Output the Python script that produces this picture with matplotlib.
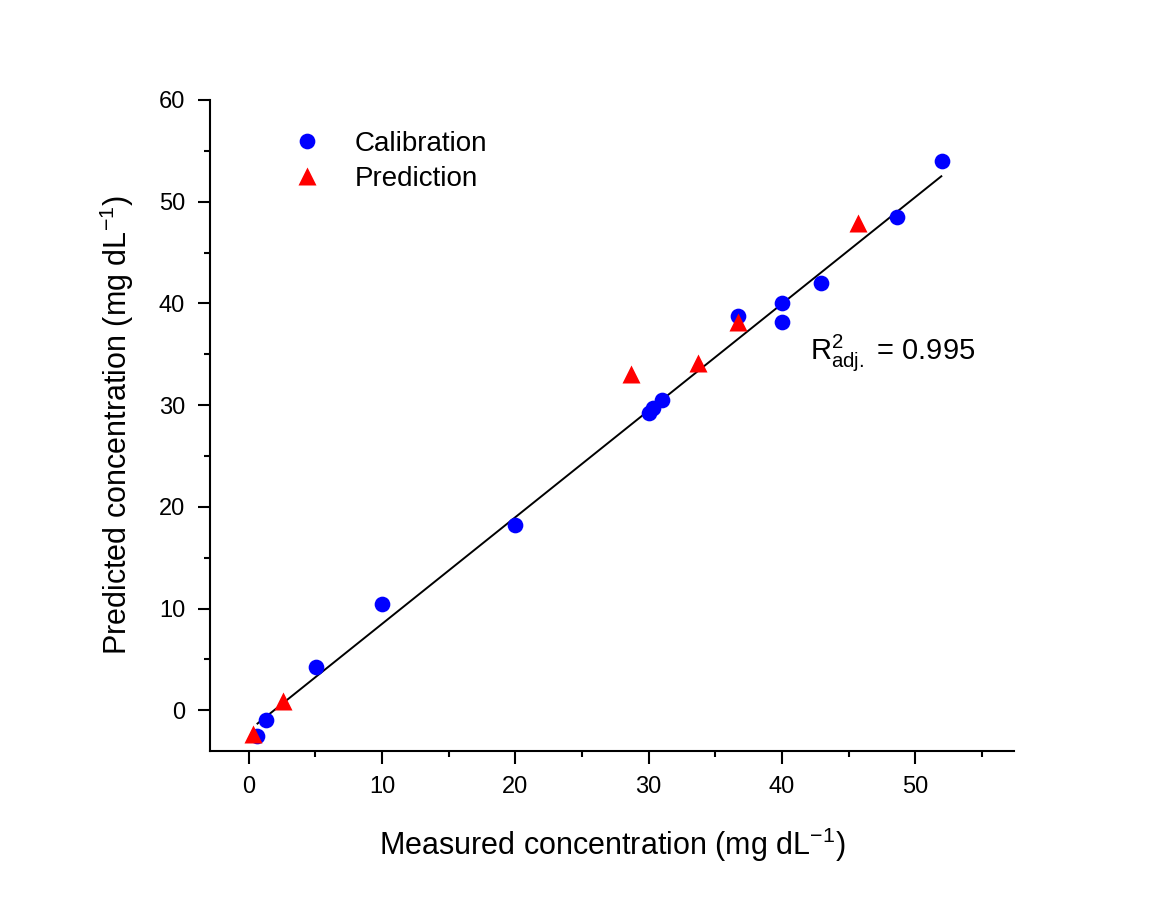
import matplotlib
matplotlib.use("Agg")
import matplotlib.pyplot as plt
from matplotlib.ticker import MultipleLocator

plt.rcParams['font.family'] = ['Liberation Sans', 'DejaVu Sans']
plt.rcParams['mathtext.fontset'] = 'custom'
plt.rcParams['mathtext.rm'] = 'Liberation Sans'
plt.rcParams['mathtext.it'] = 'Liberation Sans'

# Calibration set (measured, predicted)
cal_measured = [0.64, 1.3, 5.05, 10.0, 20.0, 30.0, 30.3, 31.0, 36.7, 40.0, 40.0, 42.9, 48.6, 52.0]
cal_predicted = [-2.5, -0.95, 4.3, 10.5, 18.2, 29.2, 29.7, 30.5, 38.8, 40.0, 38.2, 42.0, 48.5, 54.0]

# Prediction set
pred_measured = [0.3, 2.6, 28.7, 33.7, 36.7, 45.7]
pred_predicted = [-2.3, 0.9, 33.1, 34.1, 38.2, 47.9]

# regression line end points
fit_x = [0.66, 51.95]
fit_y = [-1.3, 52.5]

r2_text = r"R$^{2}_{\mathrm{adj.}}$ = 0.995"

fig = plt.figure(figsize=(11.74, 8.99), dpi=100)
ax = fig.add_axes([0.1789, 0.1646, 0.6848, 0.7242])

ax.plot(fit_x, fit_y, color='black', lw=1.4, zorder=1)
ax.plot(cal_measured, cal_predicted, 'o', color='#0000ff', ms=11.3, mec='none',
        label='Calibration', zorder=2)
ax.plot(pred_measured, pred_predicted, '^', color='#ff0000', ms=12.5, mec='none',
        label='Prediction', zorder=3)

ax.set_xlim(-2.9, 57.4)
ax.set_ylim(-4, 60)
ax.xaxis.set_major_locator(MultipleLocator(10))
ax.xaxis.set_minor_locator(MultipleLocator(5))
ax.yaxis.set_major_locator(MultipleLocator(10))
ax.yaxis.set_minor_locator(MultipleLocator(5))

for s in ['top', 'right']:
    ax.spines[s].set_visible(False)
for s in ['left', 'bottom']:
    ax.spines[s].set_linewidth(1.5)

ax.tick_params(which='major', direction='out', length=9, width=1.5, labelsize=17, pad=9)
ax.tick_params(which='minor', direction='out', length=4.5, width=1.5)

ax.set_xlabel(r"Measured concentration (mg dL$^{-1}$)", fontsize=22, labelpad=20)
ax.set_ylabel(r"Predicted concentration (mg dL$^{-1}$)", fontsize=22, labelpad=16)

ax.text(42.1, 35.2, r2_text, fontsize=21, va='center', ha='left')

ax.legend(loc='upper left', bbox_to_anchor=(0.09, 0.97), frameon=False, fontsize=20,
          handlelength=1.0, handletextpad=1.2, labelspacing=0.32, borderaxespad=0)

fig.savefig('out.png', dpi=100)
